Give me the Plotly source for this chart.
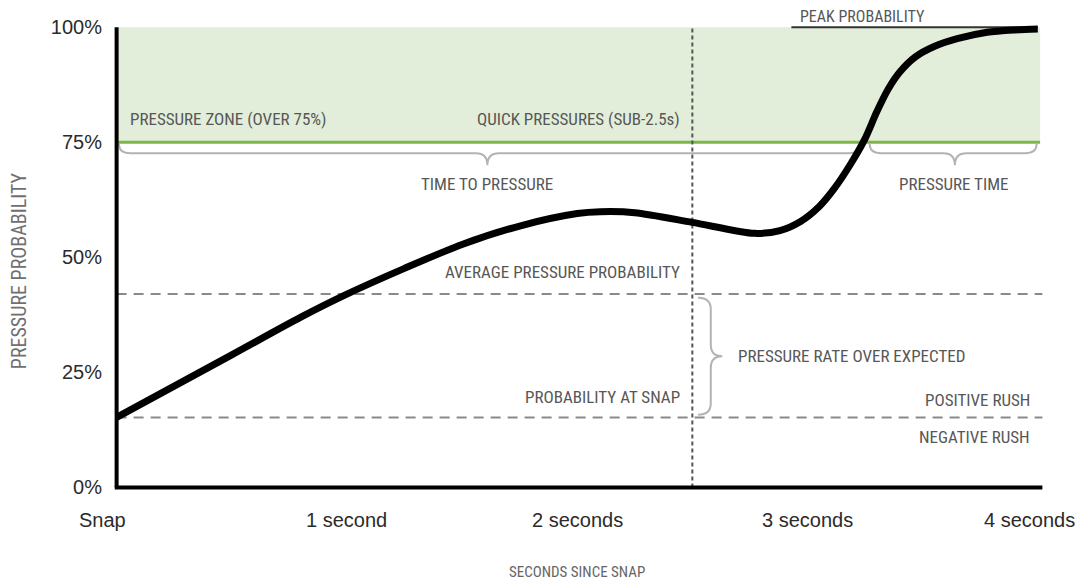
import plotly.graph_objects as go

# ---- data ----
time_s = [0, 0.5, 0.8, 1.0, 1.25, 1.5, 1.75, 2.0, 2.1, 2.25, 2.5, 2.77, 2.88, 2.97, 3.05, 3.12, 3.19,
          3.25, 3.30, 3.35, 3.40, 3.47, 3.55, 3.65, 3.78, 3.9, 4.0]
pressure_prob = [15.2, 28.8, 37.0, 42.0, 47.6, 52.8, 56.8, 59.5, 59.9, 59.7, 57.6, 55.2, 55.8, 57.8, 61.0, 65.2, 70.5,
                 75.8, 81.5, 86.5, 90.2, 93.6, 95.8, 97.5, 98.9, 99.4, 99.6]

x_tickvals = [0, 1, 2, 3, 4]
x_ticktext = ["Snap", "1 second", "2 seconds", "3 seconds", "4 seconds"]
y_tickvals = [0, 25, 50, 75, 100]
y_ticktext = ["0%", "25%", "50%", "75%", "100%"]

zone_threshold = 75
quick_cutoff = 2.5
avg_prob = 42
snap_prob = 15.2
peak_prob = 100
x_end = 4.0

X_RANGE = [-0.02, 4.04]
Y_RANGE = [-1, 102]

NARROW = "Liberation Sans Narrow, Roboto Condensed, DejaVu Sans Condensed, Arial Narrow, sans-serif"
REG = "Liberation Sans, Arial, sans-serif"
TXT = "#575757"

fig = go.Figure()

fig.add_trace(go.Scatter(
    x=time_s, y=pressure_prob, mode="lines",
    line=dict(color="black", width=7, shape="spline", smoothing=0.8),
    hoverinfo="skip", showlegend=False))

shapes = []
shapes.append(dict(type="rect", xref="x", yref="y", x0=0, x1=x_end + 0.01, y0=zone_threshold, y1=peak_prob,
                   fillcolor="#e2eed9", line=dict(width=0), layer="below"))
shapes.append(dict(type="line", xref="x", yref="y", x0=0, x1=x_end + 0.01, y0=zone_threshold, y1=zone_threshold,
                   line=dict(color="#7db548", width=3), layer="below"))
for yv in (avg_prob, snap_prob):
    shapes.append(dict(type="line", xref="x", yref="y", x0=0, x1=4.02, y0=yv, y1=yv,
                       line=dict(color="#8a8a8a", width=2, dash="10px,7px"), layer="below"))
shapes.append(dict(type="line", xref="x", yref="y", x0=quick_cutoff, x1=quick_cutoff, y0=0, y1=peak_prob,
                   line=dict(color="#555555", width=2, dash="4px,3px"), layer="below"))
shapes.append(dict(type="line", xref="x", yref="y", x0=2.93, x1=x_end, y0=peak_prob, y1=peak_prob,
                   line=dict(color="#333333", width=2), layer="below"))


def hbrace(x0, x1, xt, ytop, ymid, ytip, rx):
    return (f"M {x0},{ytop} Q {x0},{ymid} {x0 + rx},{ymid} L {xt - rx},{ymid} "
            f"Q {xt},{ymid} {xt},{ytip} Q {xt},{ymid} {xt + rx},{ymid} "
            f"L {x1 - rx},{ymid} Q {x1},{ymid} {x1},{ytop}")


def vbrace(y0, y1, yt, xleft, xmid, xtip, ry):
    return (f"M {xleft},{y0} Q {xmid},{y0} {xmid},{y0 - ry} L {xmid},{yt + ry} "
            f"Q {xmid},{yt} {xtip},{yt} Q {xmid},{yt} {xmid},{yt - ry} "
            f"L {xmid},{y1 + ry} Q {xmid},{y1} {xleft},{y1}")


brace_line = dict(color="#b3b3b3", width=2)
shapes.append(dict(type="path", xref="x", yref="y",
                   path=hbrace(0.01, 3.23, 1.61, 74.6, 72.6, 70.0, 0.05), line=brace_line, layer="below"))
shapes.append(dict(type="path", xref="x", yref="y",
                   path=hbrace(3.27, 3.995, 3.64, 74.6, 72.6, 70.0, 0.05), line=brace_line, layer="below"))
shapes.append(dict(type="path", xref="x", yref="y",
                   path=vbrace(41.2, 15.8, 28.5, 2.525, 2.58, 2.63, 2.5), line=brace_line, layer="below"))

shapes.append(dict(type="line", xref="x", yref="y", x0=0, x1=0, y0=0, y1=peak_prob,
                   line=dict(color="black", width=4), layer="above"))
shapes.append(dict(type="line", xref="x", yref="y", x0=-0.008, x1=4.02, y0=0, y1=0,
                   line=dict(color="black", width=4), layer="above"))

annos = []


def yp(v):
    return (v - Y_RANGE[0]) / (Y_RANGE[1] - Y_RANGE[0])


def label(text, x, y, xanchor="center", size=17, color=TXT, family=NARROW, xshift=0):
    annos.append(dict(text=text, x=x, y=yp(y), xref="x", yref="paper", xanchor=xanchor, yanchor="middle",
                      xshift=xshift, showarrow=False, font=dict(family=family, size=size, color=color)))


# x tick labels (drawn as annotations so the last one is not dropped at the page edge)
x_label_shift = [-14, 0, 0, 0, -8]
for tv, tt, sh in zip(x_tickvals, x_ticktext, x_label_shift):
    label(tt, tv, -7.0, size=20, color="#2b2b2b", family=REG, xshift=sh)

label("PRESSURE ZONE (OVER 75%)", 0.05, 80.0, "left")
label("QUICK PRESSURES (SUB-2.5s)", 2.457, 80.0, "right")
label("TIME TO PRESSURE", 1.61, 65.9)
label("PRESSURE TIME", 3.636, 65.9)
label("AVERAGE PRESSURE PROBABILITY", 2.457, 46.7, "right")
label("PRESSURE RATE OVER EXPECTED", 2.69, 28.5, "left")
label("PROBABILITY AT SNAP", 2.457, 19.6, "right")
label("POSITIVE RUSH", 3.977, 19.1, "right")
label("NEGATIVE RUSH", 3.977, 10.9, "right")
label("PEAK PROBABILITY", 2.96, 102.3, "left", size=16)
label("SECONDS SINCE SNAP", 2.0, -18.4, size=15, color="#666666")
annos.append(dict(text="PRESSURE PROBABILITY", xref="paper", yref="paper", x=-0.0995, y=yp(47.2),
                  xanchor="center", yanchor="middle", textangle=-90, showarrow=False,
                  font=dict(family=NARROW, size=20, color="#707070")))

# page body has an 8px margin, so the figure is 16px smaller than the window
fig.update_layout(
    width=1072, height=572,
    margin=dict(l=104, r=33, t=8, b=88),
    paper_bgcolor="white", plot_bgcolor="white",
    shapes=shapes, annotations=annos, showlegend=False,
    xaxis=dict(range=X_RANGE, tickvals=x_tickvals, showticklabels=False,
               showgrid=False, zeroline=False, showline=False, ticks=""),
    yaxis=dict(range=Y_RANGE, tickvals=y_tickvals, ticktext=y_ticktext,
               showgrid=False, zeroline=False, showline=False, ticks="",
               ticklabelstandoff=9,
               tickfont=dict(family=REG, size=20, color="#2b2b2b")),
)

fig.write_html("out.html")
